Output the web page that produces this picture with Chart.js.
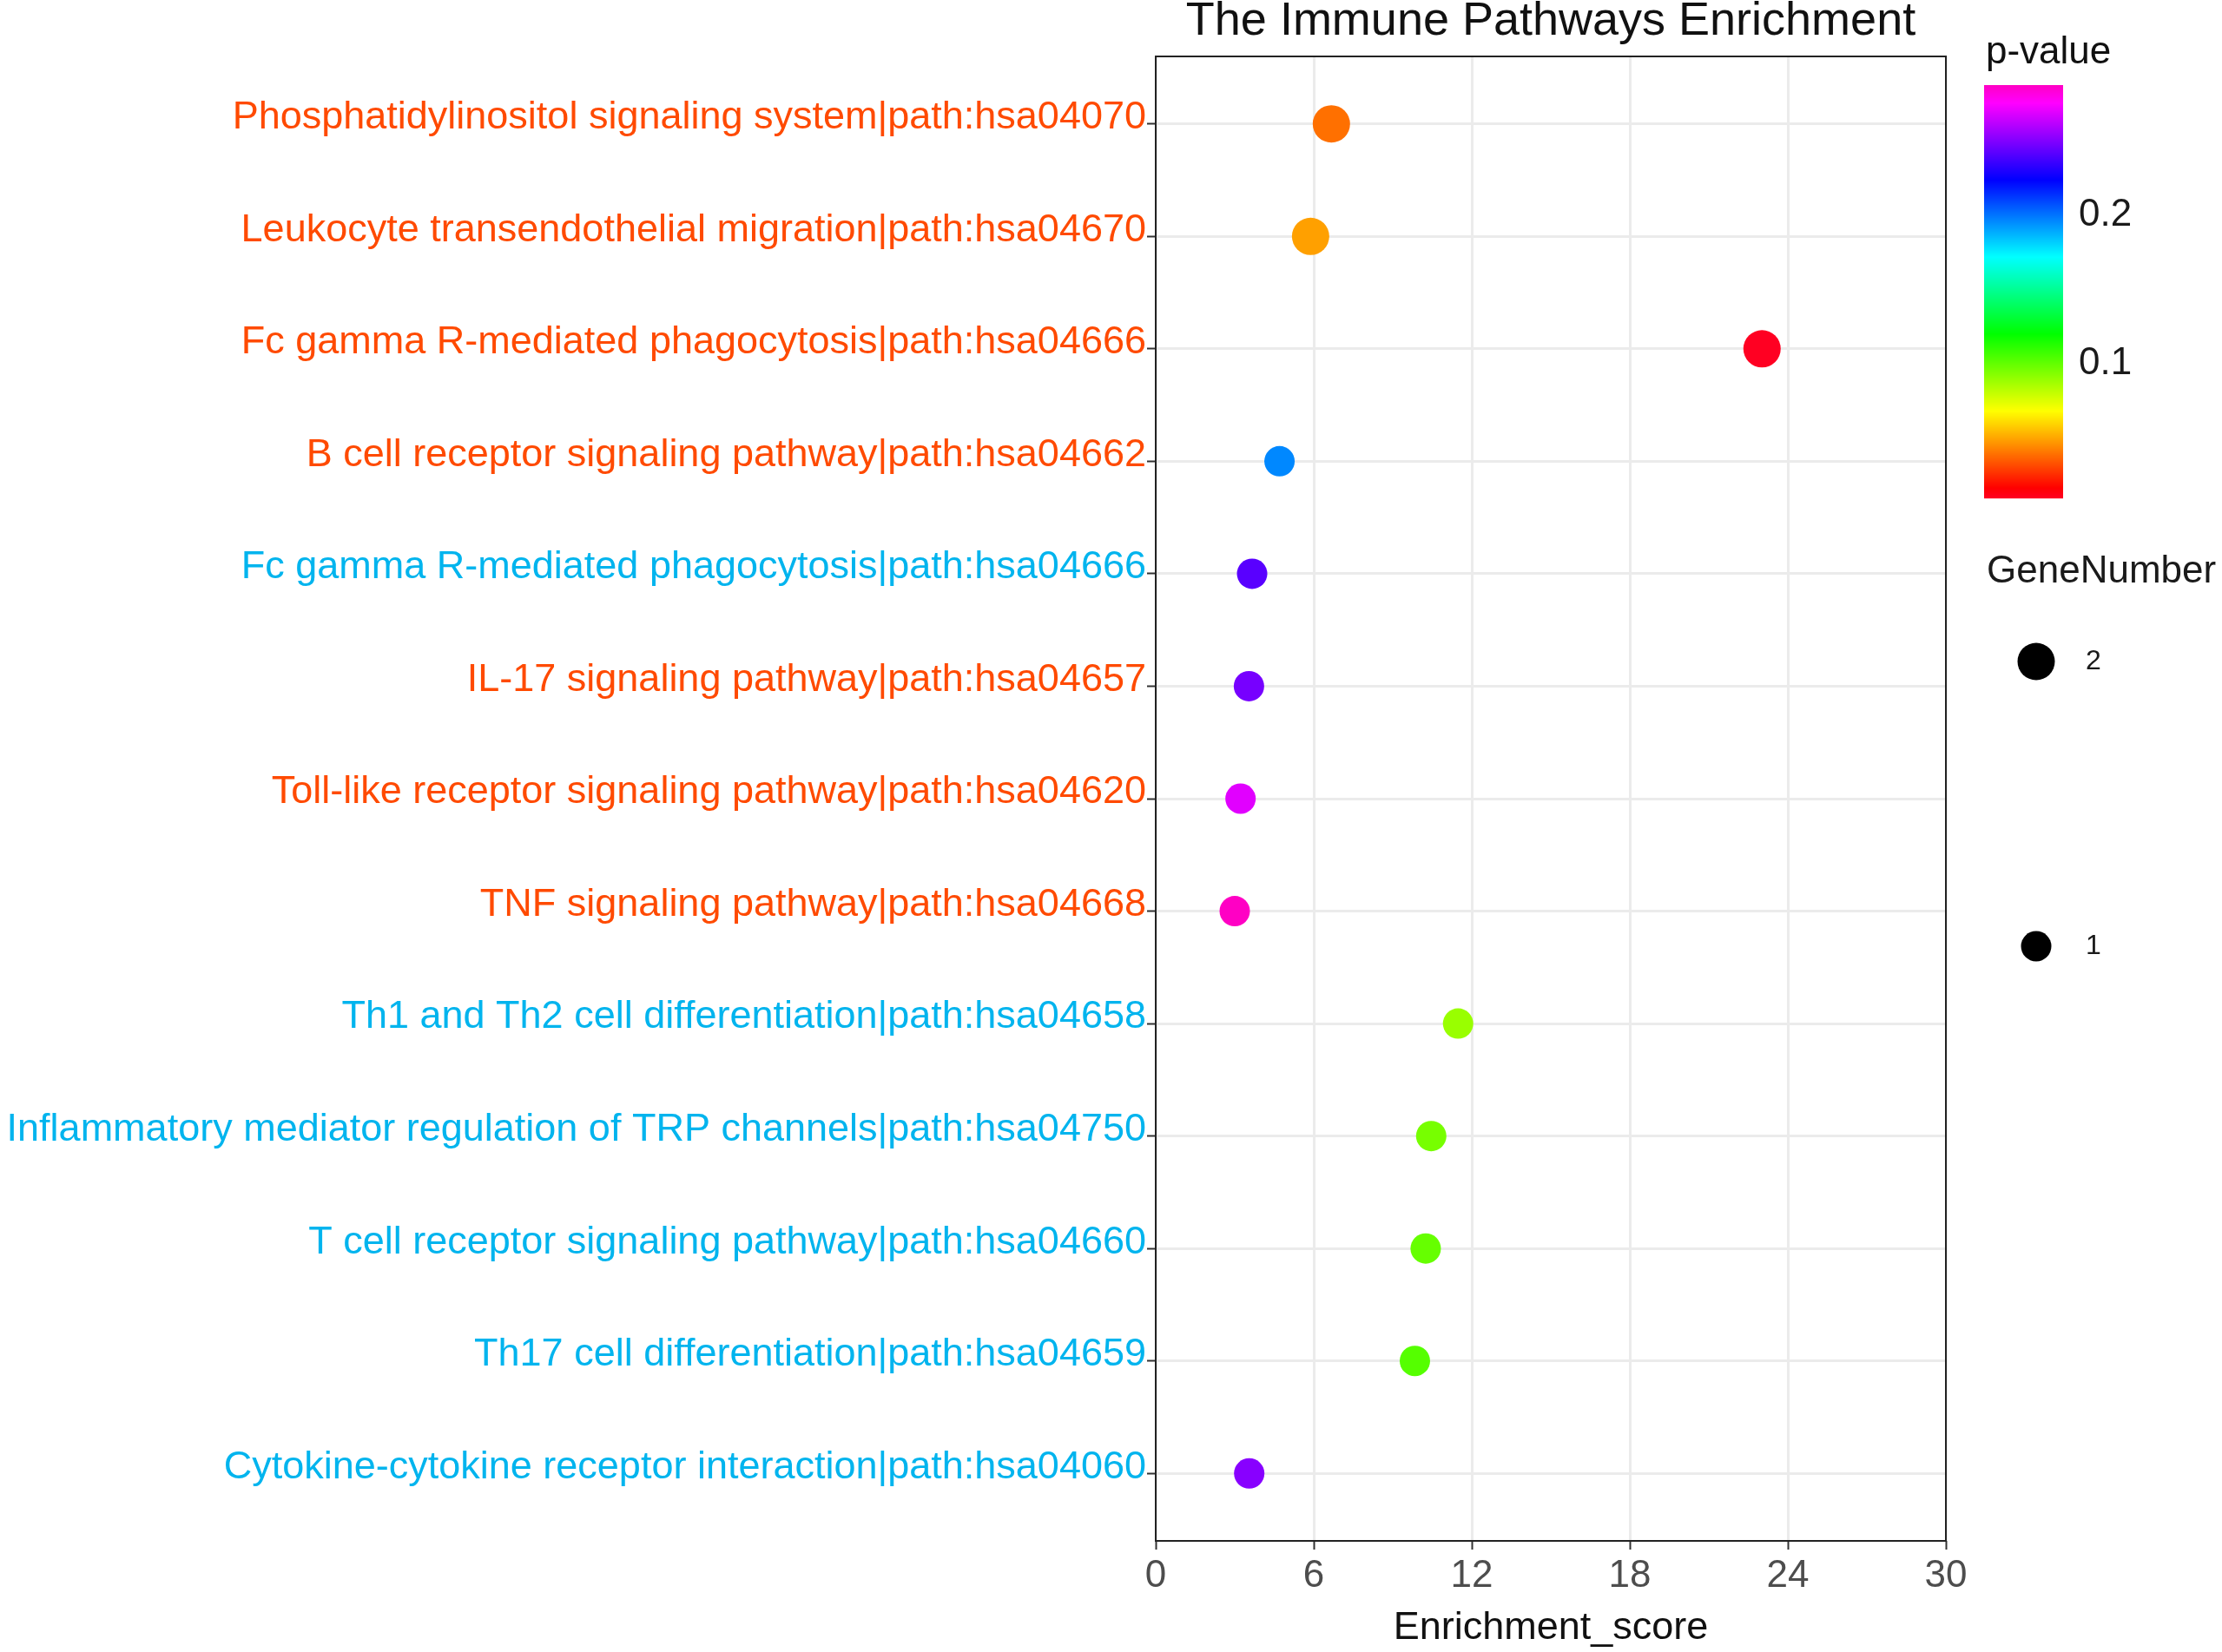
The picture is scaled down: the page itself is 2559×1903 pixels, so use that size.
<!DOCTYPE html>
<html>
<head>
<meta charset="utf-8">
<title>The Immune Pathways Enrichment</title>
<script src="https://cdn.jsdelivr.net/npm/chart.js@4.4.1/dist/chart.umd.min.js"></script>
<style>
  html, body { margin: 0; padding: 0; background: #fff; }
  #wrap { width: 2559px; height: 1903px; }
</style>
</head>
<body>
<div id="wrap"><canvas id="chart"></canvas></div>
<script>
// rows, top to bottom
const pathways = [
  'Phosphatidylinositol signaling system|path:hsa04070',
  'Leukocyte transendothelial migration|path:hsa04670',
  'Fc gamma R-mediated phagocytosis|path:hsa04666',
  'B cell receptor signaling pathway|path:hsa04662',
  'Fc gamma R-mediated phagocytosis|path:hsa04666',
  'IL-17 signaling pathway|path:hsa04657',
  'Toll-like receptor signaling pathway|path:hsa04620',
  'TNF signaling pathway|path:hsa04668',
  'Th1 and Th2 cell differentiation|path:hsa04658',
  'Inflammatory mediator regulation of TRP channels|path:hsa04750',
  'T cell receptor signaling pathway|path:hsa04660',
  'Th17 cell differentiation|path:hsa04659',
  'Cytokine-cytokine receptor interaction|path:hsa04060'
];
const labelGroups = ['up', 'up', 'up', 'up', 'down', 'up', 'up', 'up', 'down', 'down', 'down', 'down', 'down'];
const enrichmentScores = [6.67, 5.88, 23.02, 4.70, 3.66, 3.54, 3.22, 3.00, 11.48, 10.46, 10.25, 9.84, 3.55];
const pValues = [0.0373, 0.0470, 0.0075, 0.1944, 0.2402, 0.2463, 0.2679, 0.2861, 0.0871, 0.0940, 0.0975, 0.1009, 0.2498];
const geneNumbers = [2, 2, 2, 1, 1, 1, 1, 1, 1, 1, 1, 1, 1];
const xTicks = [0, 6, 12, 18, 24, 30];
const pValueTicks = [0.1, 0.2];
const geneNumberTicks = [2, 1];

const groupColors = { up: '#FF4A00', down: '#00B4EE' };
const FONT = '"Liberation Sans", Arial, sans-serif';

// colour scale: rainbow hues over the p-value range
const pMin = Math.min(...pValues);
const pMax = Math.max(...pValues);
const hueLow = -8, hueHigh = 314;
function pColor(p) {
  const t = (p - pMin) / (pMax - pMin);
  const h = hueLow + t * (hueHigh - hueLow);
  return `hsl(${(h + 360) % 360}, 100%, 50%)`;
}

// size scale
const gMin = Math.min(...geneNumbers);
const gMax = Math.max(...geneNumbers);
function geneRadius(n) {
  return 17.5 + (gMax === gMin ? 0 : (n - gMin) / (gMax - gMin)) * 4;
}

const decorPlugin = {
  id: 'decor',
  afterDatasetsDraw(chart) {
    const { ctx, chartArea } = chart;
    ctx.save();

    // panel border
    ctx.strokeStyle = '#222';
    ctx.lineWidth = 2;
    ctx.strokeRect(chartArea.left, chartArea.top, chartArea.right - chartArea.left, chartArea.bottom - chartArea.top);

    // title, centred over the panel
    ctx.fillStyle = '#111';
    ctx.font = '54px ' + FONT;
    ctx.textAlign = 'center';
    ctx.textBaseline = 'alphabetic';
    ctx.fillText('The Immune Pathways Enrichment', (chartArea.left + chartArea.right) / 2, 40);

    // p-value colour bar
    const barX = 2285, barW = 91, barTop = 98, barBottom = 574;
    ctx.textAlign = 'left';
    ctx.font = '44px ' + FONT;
    ctx.fillText('p-value', 2287, 73);
    for (let y = barTop; y < barBottom; y++) {
      const p = pMin + (barBottom - y - 0.5) / (barBottom - barTop) * (pMax - pMin);
      ctx.fillStyle = pColor(p);
      ctx.fillRect(barX, y, barW, 1.2);
    }
    ctx.fillStyle = '#1A1A1A';
    ctx.textBaseline = 'middle';
    pValueTicks.forEach(v => {
      const y = barBottom - (v - pMin) / (pMax - pMin) * (barBottom - barTop);
      ctx.fillText(String(v), 2394, y + 3);
    });

    // GeneNumber size legend
    ctx.textBaseline = 'alphabetic';
    ctx.fillText('GeneNumber', 2288, 671);
    const keyY = [762, 1090];
    ctx.font = '32px ' + FONT;
    ctx.textBaseline = 'middle';
    geneNumberTicks.forEach((n, i) => {
      ctx.fillStyle = '#000';
      ctx.beginPath();
      ctx.arc(2345, keyY[i], geneRadius(n), 0, Math.PI * 2);
      ctx.fill();
      ctx.fillStyle = '#1A1A1A';
      ctx.fillText(String(n), 2402, keyY[i]);
    });

    ctx.restore();
  }
};

function buildChart() {
  const ctx = document.getElementById('chart').getContext('2d');
  new Chart(ctx, {
    type: 'scatter',
    data: {
      datasets: [{
        data: enrichmentScores.map((x, i) => ({ x: x, y: i })),
        pointRadius: c => geneRadius(geneNumbers[c.dataIndex]),
        pointHoverRadius: c => geneRadius(geneNumbers[c.dataIndex]),
        pointBackgroundColor: c => pColor(pValues[c.dataIndex]),
        pointBorderWidth: 0
      }]
    },
    options: {
      responsive: true,
      maintainAspectRatio: false,
      devicePixelRatio: 1,
      animation: false,
      events: [],
      layout: { padding: { top: 65, right: 318, bottom: 0, left: 0 } },
      plugins: {
        legend: { display: false },
        title: { display: false },
        tooltip: { enabled: false }
      },
      scales: {
        x: {
          type: 'linear',
          min: 0,
          max: 30,
          afterBuildTicks: scale => { scale.ticks = xTicks.map(v => ({ value: v })); },
          afterFit: scale => { scale.height = 128; },
          border: { display: false },
          grid: { color: '#EBEBEB', lineWidth: 3, tickColor: '#333', tickWidth: 2, tickLength: 10 },
          ticks: { color: '#4D4D4D', font: { family: FONT, size: 44 }, padding: 4, maxRotation: 0 },
          title: {
            display: true,
            text: 'Enrichment_score',
            color: '#111',
            font: { family: FONT, size: 45 },
            padding: { top: 0, bottom: 0 }
          }
        },
        y: {
          type: 'linear',
          reverse: true,
          min: -0.6,
          max: pathways.length - 0.4,
          afterBuildTicks: scale => { scale.ticks = pathways.map((_, i) => ({ value: i })); },
          afterFit: scale => { scale.width = 1331; },
          border: { display: false },
          grid: { color: '#EBEBEB', lineWidth: 3, tickColor: '#333', tickWidth: 2, tickLength: 10 },
          ticks: {
            autoSkip: false,
            padding: 1,
            labelOffset: -7,
            font: { family: FONT, size: 45 },
            color: c => groupColors[labelGroups[c.tick.value]],
            callback: v => pathways[v]
          }
        }
      }
    },
    plugins: [decorPlugin]
  });
}

document.addEventListener('DOMContentLoaded', buildChart);
</script>
</body>
</html>
